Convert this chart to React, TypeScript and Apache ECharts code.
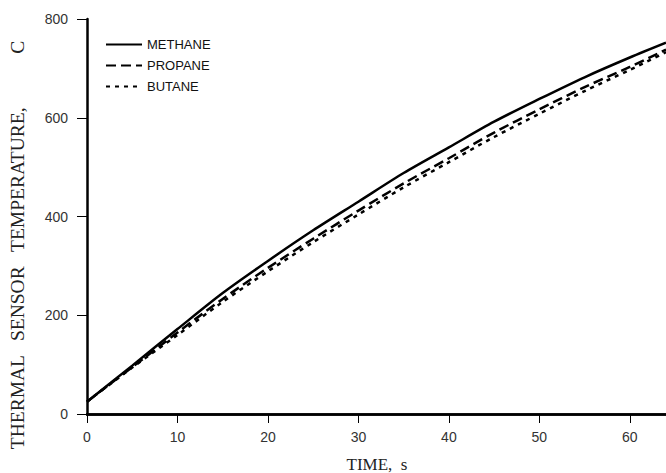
import React, { useEffect, useRef } from "react";
import * as echarts from "echarts";

const time = [0, 5, 10, 15, 20, 25, 30, 35, 40, 45, 50, 55, 60, 64];
const methane = [25, 98, 172, 245, 310, 372, 430, 488, 540, 592, 638, 682, 722, 752];
const propane = [25, 95, 165, 233, 296, 355, 412, 467, 518, 570, 617, 662, 703, 738];
const butane = [25, 94, 160, 227, 289, 348, 404, 459, 510, 561, 608, 654, 697, 733];
const seriesNames = ["METHANE", "PROPANE", "BUTANE"];
const yTitle = "THERMAL   SENSOR   TEMPERATURE,           C";
const xTitle = "TIME,  s";

export default function App() {
  const ref = useRef<HTMLDivElement>(null);
  useEffect(() => {
    document.body.style.margin = "0";
    const chart = echarts.init(ref.current!, null, { renderer: "svg" });
    const pair = (arr: number[]) => time.map((t, i) => [t, arr[i]]);
    const tickFont = { fontFamily: "Liberation Sans", fontSize: 14, color: "#333" };
    const mk = (name: string, data: number[], type: any) => ({
      name,
      type: "line",
      data: pair(data),
      showSymbol: false,
      symbol: "none",
      smooth: 0.3,
      lineStyle: { color: "#000", width: 2.5, type },
      itemStyle: { color: "#000" },
    });
    chart.setOption({
      animation: false,
      backgroundColor: "#fff",
      grid: { left: 87, right: 0, top: 19, bottom: 59 },
      legend: {
        orient: "vertical",
        left: 100,
        top: 33,
        itemWidth: 36,
        itemHeight: 12,
        itemGap: 8,
        data: seriesNames,
        itemStyle: { opacity: 0 },
        textStyle: { fontFamily: "Liberation Sans", fontSize: 13, color: "#111" },
      },
      xAxis: [
        {
          type: "value",
          min: 0,
          max: 64,
          interval: 10,
          splitLine: { show: false },
          axisLine: { show: true, onZero: false, lineStyle: { color: "#000", width: 2.5 } },
          axisTick: { show: true, length: 9, lineStyle: { color: "#000", width: 1 } },
          axisLabel: { ...tickFont, margin: 16, showMaxLabel: false },
        },
        {
          type: "value",
          position: "top",
          min: 0,
          max: 64,
          splitLine: { show: false },
          axisLine: { show: true, lineStyle: { color: "#000", width: 2.5 } },
          axisTick: { show: false },
          axisLabel: { show: false },
        },
      ],
      yAxis: {
        type: "value",
        min: 0,
        max: 800,
        interval: 200,
        splitLine: { show: false },
        axisLine: { show: true, lineStyle: { color: "#000", width: 2.5 } },
        axisTick: { show: true, length: 10, lineStyle: { color: "#000", width: 1 } },
        axisLabel: { ...tickFont, margin: 19 },
      },
      graphic: [
        {
          type: "text",
          x: 17,
          y: 245,
          rotation: Math.PI / 2,
          style: {
            text: yTitle,
            fontFamily: "Liberation Serif",
            fontSize: 19.5,
            fill: "#222",
            align: "center",
            verticalAlign: "middle",
          },
        },
        {
          type: "text",
          x: 377,
          y: 464,
          style: {
            text: xTitle,
            fontFamily: "Liberation Serif",
            fontSize: 17,
            fill: "#222",
            align: "center",
            verticalAlign: "middle",
          },
        },
      ],
      series: [
        mk(seriesNames[0], methane, "solid"),
        mk(seriesNames[1], propane, [10, 5]),
        mk(seriesNames[2], butane, [4, 5]),
      ],
    });
    return () => chart.dispose();
  }, []);
  return <div ref={ref} style={{ width: 666, height: 473 }} />;
}
